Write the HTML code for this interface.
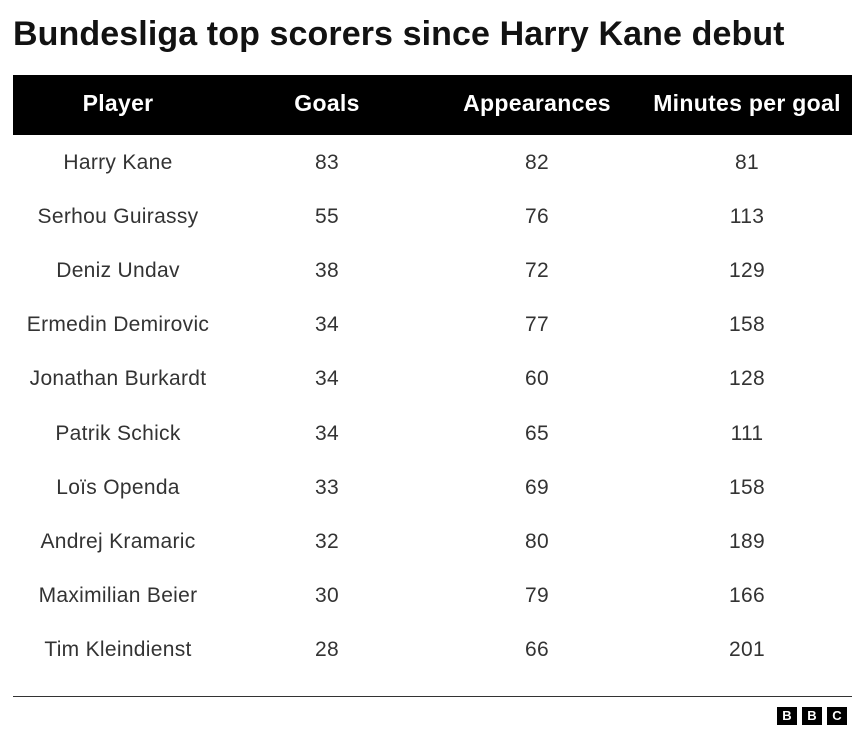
<!DOCTYPE html>
<html><head><meta charset="utf-8"><style>
body{margin:0;width:865px;height:743px;background:#fff;font-family:"Liberation Sans",Arial,sans-serif;color:#222;position:relative;overflow:hidden}
h1{position:absolute;left:13px;top:15px;margin:0;font-size:34px;font-weight:bold;color:#121212;letter-spacing:0.1px}
.hdr{position:absolute;left:13px;top:75px;width:839px;height:60px;background:#000}
.c{position:absolute;transform:translateX(-50%);white-space:nowrap}
.h{color:#fff;font-weight:bold;font-size:23px;top:90px;letter-spacing:0.3px}
.r{font-size:21px;color:#333;letter-spacing:0.3px}
.line{position:absolute;left:13px;top:696px;width:839px;height:1px;background:#333}
.bbc{position:absolute;top:707px;width:20px;height:18px;background:#000;color:#fff;font-weight:bold;font-size:13px;text-align:center;line-height:18px}
</style></head><body>
<h1>Bundesliga top scorers since Harry Kane debut</h1>
<div class="hdr"></div>
<div class="c h" style="left:118px">Player</div>
<div class="c h" style="left:327px">Goals</div>
<div class="c h" style="left:537px">Appearances</div>
<div class="c h" style="left:747px">Minutes per goal</div>
<div id="rows"></div>
<div class="line"></div>
<div class="bbc" style="left:777px">B</div>
<div class="bbc" style="left:802px">B</div>
<div class="bbc" style="left:827px">C</div>
<script>
var d=[["Harry Kane",83,82,81],["Serhou Guirassy",55,76,113],["Deniz Undav",38,72,129],["Ermedin Demirovic",34,77,158],["Jonathan Burkardt",34,60,128],["Patrik Schick",34,65,111],["Loïs Openda",33,69,158],["Andrej Kramaric",32,80,189],["Maximilian Beier",30,79,166],["Tim Kleindienst",28,66,201]];
var xs=[118,327,537,747],h="";
d.forEach(function(r,i){var y=150.5+i*54.2;r.forEach(function(v,j){h+='<div class="c r" style="left:'+xs[j]+'px;top:'+y+'px">'+v+'</div>';});});
document.getElementById("rows").innerHTML=h;
</script>
</body></html>
